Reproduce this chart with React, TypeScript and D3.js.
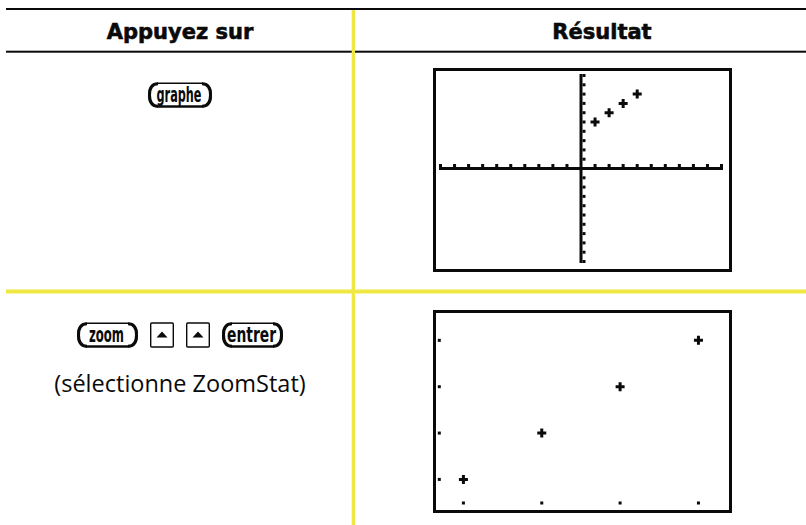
import React from 'react';
import * as d3 from 'd3';

const WIDTH = 806;
const HEIGHT = 525;

// table texts
const HEADERS = ['Appuyez sur', 'Résultat'];
const ROW1_KEYS = ['graphe'];
const ROW2_KEYS = ['zoom', 'up', 'up', 'entrer'];
const ROW2_NOTE = '(sélectionne ZoomStat)';

// listes statistiques L1 / L2
const L1 = [1, 2, 3, 4];
const L2 = [5, 6, 7, 8];

// fenêtres (ZStandard puis ZoomStat)
const STD_X = [-10, 10];
const STD_Y = [-10, 10];
const STAT_X = [0.65, 4.39];
const STAT_Y = [4.34, 8.59];

const YELLOW = '#efe842';
const INK = '#0a0a0a';

// widths of the key caps and of their labels
const KEY_W: { [k: string]: number } = { graphe: 64, zoom: 61, entrer: 61, up: 24 };
const LABEL_W: { [k: string]: number } = { graphe: 45, zoom: 35, entrer: 49 };

const cross = d3.symbol().type(d3.symbolCross).size(45)() as string;

type Box = { x: number; y: number; w: number; h: number };

const Frame = ({ box }: { box: Box }) => (
  <rect
    x={box.x + 1.5}
    y={box.y + 1.5}
    width={box.w - 3}
    height={box.h - 3}
    fill="#fff"
    stroke={INK}
    strokeWidth={3}
  />
);

const Points = ({ xs, ys }: { xs: any; ys: any }) => (
  <g>
    {L1.map((v, i) => (
      <path key={i} d={cross} transform={`translate(${xs(v)},${ys(L2[i])})`} fill={INK} />
    ))}
  </g>
);

// écran 1 : fenêtre standard, axes visibles
const StandardScreen = ({ box }: { box: Box }) => {
  const inner = { x0: box.x + 3, x1: box.x + box.w - 3, y0: box.y + 3, y1: box.y + box.h - 3 };
  const xs = d3.scaleLinear().domain(STD_X).range([inner.x0 + 4.5, inner.x1 - 7.5]);
  const ys = d3.scaleLinear().domain(STD_Y).range([inner.y1 - 7.5, inner.y0 + 4.5]);
  const x0 = xs(0);
  const y0 = ys(0);
  return (
    <g>
      <Frame box={box} />
      <line x1={xs(STD_X[0])} x2={xs(STD_X[1])} y1={y0} y2={y0} stroke={INK} strokeWidth={3} strokeLinecap="square" />
      <line x1={x0} x2={x0} y1={ys(STD_Y[0])} y2={ys(STD_Y[1])} stroke={INK} strokeWidth={3} strokeLinecap="square" />
      {xs.ticks(20).filter((t) => t !== 0).map((t) => (
        <rect key={`x${t}`} x={xs(t) - 1.5} y={y0 - 4.5} width={3} height={3} fill={INK} />
      ))}
      {ys.ticks(20).filter((t) => t !== 0).map((t) => (
        <rect key={`y${t}`} x={x0 + 1.5} y={ys(t) - 1.5} width={3} height={3} fill={INK} />
      ))}
      <Points xs={xs} ys={ys} />
    </g>
  );
};

// écran 2 : ZoomStat, axes hors écran, seules les graduations restent
const StatScreen = ({ box }: { box: Box }) => {
  const inner = { x0: box.x + 3, x1: box.x + box.w - 3, y0: box.y + 3, y1: box.y + box.h - 3 };
  const xs = d3.scaleLinear().domain(STAT_X).range([inner.x0, inner.x1]);
  const ys = d3.scaleLinear().domain(STAT_Y).range([inner.y1, inner.y0]);
  return (
    <g>
      <Frame box={box} />
      {xs.ticks(4).map((t) => (
        <rect key={`x${t}`} x={xs(t) - 1.5} y={inner.y1 - 8.5} width={3} height={3} fill={INK} />
      ))}
      {ys.ticks(4).map((t) => (
        <rect key={`y${t}`} x={inner.x0 + 1.8} y={ys(t) - 1.5} width={3} height={3} fill={INK} />
      ))}
      <Points xs={xs} ys={ys} />
    </g>
  );
};

const Key = ({ name, x, cy }: { name: string; x: number; cy: number }) => {
  const w = KEY_W[name];
  if (name === 'up') {
    const cx = x + w / 2;
    return (
      <g>
        <rect x={x + 0.7} y={cy - 12} width={w - 1.4} height={24} rx={1} fill="#fff" stroke={INK} strokeWidth={1.4} />
        <path d={`M${cx - 5.5},${cy + 2.5}L${cx + 5.5},${cy + 2.5}L${cx},${cy - 3.5}Z`} fill={INK} />
      </g>
    );
  }
  const h = 25;
  const y = cy - h / 2;
  const r = 9;
  return (
    <g>
      <rect x={x + 1} y={y + 0.8} width={w - 2} height={h - 1.6} rx={r} fill="#fff" stroke={INK} strokeWidth={1.5} />
      <path
        d={`M${x + r + 1},${y + 1.2}Q${x + 1.5},${y + 1.2} ${x + 1.5},${cy}Q${x + 1.5},${y + h - 1.2} ${x + r + 1},${y + h - 1.2}`}
        fill="none"
        stroke={INK}
        strokeWidth={3}
      />
      <path
        d={`M${x + w - r - 1},${y + 1.2}Q${x + w - 1.5},${y + 1.2} ${x + w - 1.5},${cy}Q${x + w - 1.5},${y + h - 1.2} ${x + w - r - 1},${y + h - 1.2}`}
        fill="none"
        stroke={INK}
        strokeWidth={3}
      />
      <line x1={x + r} x2={x + w - r} y1={y + h - 1.2} y2={y + h - 1.2} stroke={INK} strokeWidth={2.2} />
      <text
        x={x + w / 2 - 1}
        y={cy + 6.5}
        textAnchor="middle"
        fontFamily="'DejaVu Sans Condensed', 'DejaVu Sans', sans-serif"
        fontWeight="bold"
        fontSize={22}
        textLength={LABEL_W[name]}
        lengthAdjust="spacingAndGlyphs"
        fill={INK}
      >
        {name}
      </text>
    </g>
  );
};

const KeyRow = ({ keys, cx, cy, gap }: { keys: string[]; cx: number; cy: number; gap: number }) => {
  const total = d3.sum(keys, (k) => KEY_W[k]) + gap * (keys.length - 1);
  let x = cx - total / 2;
  return (
    <g>
      {keys.map((k, i) => {
        const kx = x;
        x += KEY_W[k] + gap;
        return <Key key={i} name={k} x={kx} cy={cy} />;
      })}
    </g>
  );
};

const App = () => {
  const leftCx = 180;
  const headerCx = [leftCx, 602];
  const screen1: Box = { x: 433, y: 68, w: 299, h: 204 };
  const screen2: Box = { x: 433, y: 310, w: 299, h: 203 };
  return (
    <svg
      width={WIDTH}
      height={HEIGHT}
      viewBox={`0 0 ${WIDTH} ${HEIGHT}`}
      style={{ position: 'absolute', left: 0, top: 0, background: '#fff' }}
    >
      <rect x={0} y={0} width={WIDTH} height={HEIGHT} fill="#fff" />
      {/* filets noirs */}
      <rect x={6} y={8} width={WIDTH - 6} height={2} fill={INK} />
      <rect x={6} y={50.7} width={WIDTH - 6} height={2} fill={INK} />

      {HEADERS.map((h, i) => (
        <text
          key={h}
          x={headerCx[i]}
          y={39}
          textAnchor="middle"
          fontFamily="'DejaVu Sans', sans-serif"
          fontWeight="bold"
          fontSize={21}
          fill={INK}
          stroke={INK}
          strokeWidth={0.6}
        >
          {h}
        </text>
      ))}

      <KeyRow keys={ROW1_KEYS} cx={leftCx} cy={95} gap={12} />
      <KeyRow keys={ROW2_KEYS} cx={leftCx} cy={335} gap={12} />
      <text
        x={leftCx}
        y={392}
        textAnchor="middle"
        fontFamily="'Open Sans', sans-serif"
        fontSize={23.5}
        fill={INK}
      >
        {ROW2_NOTE}
      </text>

      <StandardScreen box={screen1} />
      <StatScreen box={screen2} />

      {/* filets jaunes */}
      <rect x={6} y={289.5} width={WIDTH - 6} height={4} fill={YELLOW} />
      <rect x={351.7} y={10} width={3.3} height={HEIGHT - 10} fill={YELLOW} />
    </svg>
  );
};

export default App;
